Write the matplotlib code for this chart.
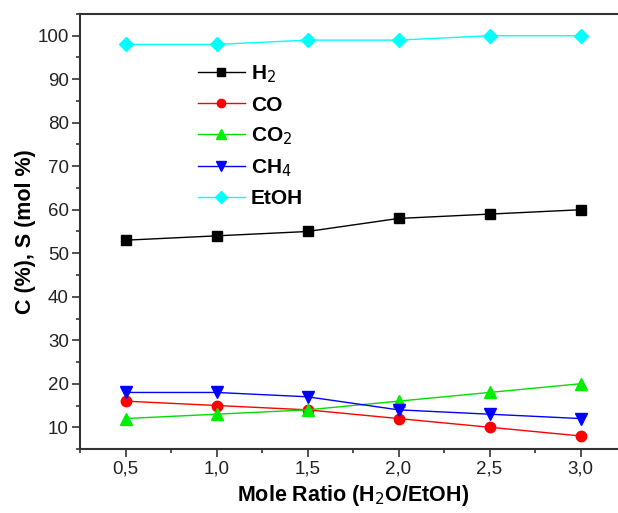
import numpy as np
import matplotlib.pyplot as plt
from matplotlib.ticker import MultipleLocator

plt.rcParams['font.family'] = ['Liberation Sans', 'DejaVu Sans']

ratio = [0.5, 1.0, 1.5, 2.0, 2.5, 3.0]
h2 = [53, 54, 55, 58, 59, 60]
co = [16, 15, 14, 12, 10, 8]
co2 = [12, 13, 14, 16, 18, 20]
ch4 = [18, 18, 17, 14, 13, 12]
etoh = [98, 98, 99, 99, 100, 100]
xtick_labels = ['0,5', '1,0', '1,5', '2,0', '2,5', '3,0']

fig = plt.figure(figsize=(6.18, 5.13), dpi=100)
# right spine is cut off in the original
ax = fig.add_axes([80 / 618, 1 - 449 / 513, 546 / 618, 435 / 513])

ms = 7.5
ax.plot(ratio, h2, '-s', color='black', mfc='black', mec='black', ms=ms, lw=1, label=r'H$_2$')
ax.plot(ratio, co, '-o', color='red', mfc='red', mec='red', ms=ms, lw=1, label='CO')
ax.plot(ratio, co2, '-^', color='#00dd00', mfc='#00ee00', mec='#00ee00', ms=ms + 1, lw=1, label=r'CO$_2$')
ax.plot(ratio, ch4, '-v', color='blue', mfc='blue', mec='blue', ms=ms + 1, lw=1, label=r'CH$_4$')
ax.plot(ratio, etoh, '-D', color='cyan', mfc='cyan', mec='cyan', ms=ms, lw=1, label='EtOH')

ax.set_xlim(0.25, 3.25)
ax.set_ylim(5, 105)
ax.set_xticks(ratio)
ax.set_xticklabels(xtick_labels)
ax.xaxis.set_minor_locator(MultipleLocator(0.25))
ax.set_yticks(np.arange(10, 101, 10))
ax.yaxis.set_minor_locator(MultipleLocator(5))
ax.tick_params(which='both', direction='out', labelsize=13.5, width=1.2, colors='#333333', labelcolor='#222222')
ax.tick_params(which='major', length=6, pad=2)
ax.tick_params(which='minor', length=3)
for s in ax.spines.values():
    s.set_linewidth(1.5)
    s.set_color('#333333')

ax.set_xlabel(r'Mole Ratio (H$_2$O/EtOH)', fontsize=15.5, fontweight='bold', labelpad=4)
ax.set_ylabel('C (%), S (mol %)', fontsize=15.5, fontweight='bold', labelpad=1)

leg = ax.legend(loc='upper left', bbox_to_anchor=(0.2, 0.905), frameon=False,
                prop={'weight': 'bold', 'size': 15}, handlelength=2.3, markerscale=0.8,
                handletextpad=0.25, labelspacing=0.5, borderaxespad=0)

fig.savefig('out.png', dpi=100)
